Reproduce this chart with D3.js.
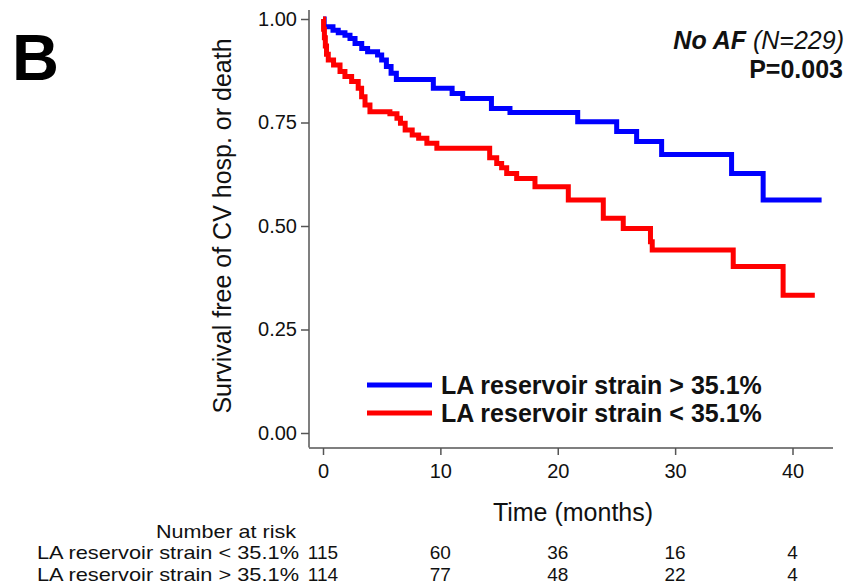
<!DOCTYPE html>
<html>
<head>
<meta charset="utf-8">
<script src="https://cdn.jsdelivr.net/npm/d3@7"></script>
<style>
  body { margin: 0; background: #fff; }
  text { font-family: "Liberation Sans", Arial, Helvetica, sans-serif; }
</style>
</head>
<body>
<div id="chart"></div>
<script>
// Kaplan-Meier steps: [months, survival]
const highStrain = [
  [0, 1.0], [0.1, 0.981], [0.85, 0.973], [1.3, 0.967], [1.87, 0.961], [2.3, 0.953],
  [2.73, 0.941], [3.3, 0.929], [3.8, 0.921], [4.65, 0.913], [5.0, 0.901], [5.4, 0.885],
  [5.8, 0.869], [6.25, 0.854], [9.4, 0.833], [11.0, 0.82], [11.9, 0.808], [14.35, 0.784],
  [15.93, 0.774], [21.7, 0.752], [25.02, 0.728], [26.72, 0.704], [28.85, 0.673],
  [34.81, 0.627], [37.5, 0.563], [42.48, 0.563]
];
const lowStrain = [
  [0, 1.0], [0.05, 0.975], [0.12, 0.955], [0.2, 0.935], [0.3, 0.915], [0.45, 0.901],
  [0.9, 0.889], [1.45, 0.873], [1.87, 0.861], [2.44, 0.849], [3.0, 0.833], [3.29, 0.812],
  [3.58, 0.792], [4.0, 0.776], [5.7, 0.771], [6.3, 0.76], [6.6, 0.748], [7.0, 0.732],
  [7.6, 0.72], [8.15, 0.712], [8.85, 0.7], [9.7, 0.688], [14.2, 0.665], [14.8, 0.651],
  [15.22, 0.641], [15.65, 0.627], [16.5, 0.615], [18.06, 0.595], [20.9, 0.563],
  [23.88, 0.519], [25.58, 0.494], [27.9, 0.462], [28.05, 0.442], [34.95, 0.402],
  [39.2, 0.333], [41.9, 0.333]
];

const xTicks = [0, 10, 20, 30, 40];
const yTicks = [0, 0.25, 0.5, 0.75, 1];
const riskLow = [115, 60, 36, 16, 4];
const riskHigh = [114, 77, 48, 22, 4];
const groupLabels = ["LA reservoir strain > 35.1%", "LA reservoir strain < 35.1%"];
const colors = ["#0000ff", "#ff0000"];

const width = 847, height = 585;
const axisColor = "#555";

const svg = d3.select("#chart").append("svg")
    .attr("width", width)
    .attr("height", height);

const x = d3.scaleLinear().domain([0, 40]).range([323, 792.5]);
const y = d3.scaleLinear().domain([0, 1]).range([433, 19]);

const axisLeftX = 309, axisBottomY = 448;

// y axis
const yAxis = svg.append("g").attr("transform", `translate(${axisLeftX},0)`)
    .call(d3.axisLeft(y).tickValues(yTicks).tickFormat(d3.format(".2f")).tickSize(8).tickPadding(4));
yAxis.select(".domain").remove();
yAxis.append("line").attr("x1", 0).attr("x2", 0).attr("y1", 10).attr("y2", axisBottomY - 0.5);

// x axis
const xAxis = svg.append("g").attr("transform", `translate(0,${axisBottomY})`)
    .call(d3.axisBottom(x).tickValues(xTicks).tickSize(7).tickPadding(9));
xAxis.select(".domain").remove();
xAxis.append("line").attr("x1", axisLeftX).attr("x2", 833).attr("y1", 0).attr("y2", 0);

svg.selectAll(".tick line, g > line").attr("stroke", axisColor).attr("stroke-width", 1.5);
svg.selectAll(".tick text").attr("fill", "#111").style("font-size", "20px")
    .style("font-family", '"Liberation Sans", Arial, sans-serif');

// axis titles
svg.append("text")
    .attr("transform", `translate(231,${(y(0) + y(1)) / 2}) rotate(-90)`)
    .attr("text-anchor", "middle")
    .style("font-size", "25px")
    .attr("fill", "#111")
    .text("Survival free of CV hosp. or death");

svg.append("text")
    .attr("x", 573).attr("y", 521)
    .attr("text-anchor", "middle")
    .style("font-size", "25px")
    .attr("fill", "#111")
    .text("Time (months)");

// curves
const line = d3.line().x(d => x(d[0])).y(d => y(d[1])).curve(d3.curveStepAfter);
[highStrain, lowStrain].forEach((s, i) => {
  svg.append("path")
      .datum(s)
      .attr("d", line)
      .attr("fill", "none")
      .attr("stroke", colors[i])
      .attr("stroke-width", 5);
});

// legend
const legend = svg.append("g");
groupLabels.forEach((lab, i) => {
  const ly = 385 + i * 28;
  legend.append("line")
      .attr("x1", 367).attr("x2", 432).attr("y1", ly).attr("y2", ly)
      .attr("stroke", colors[i]).attr("stroke-width", 5);
  legend.append("text")
      .attr("x", 441).attr("y", ly + 9)
      .style("font-size", "25px").style("font-weight", "bold")
      .attr("fill", "#111")
      .text(lab);
});

// header
const head = svg.append("text")
    .attr("x", 844).attr("y", 49)
    .attr("text-anchor", "end")
    .style("font-size", "25px").style("font-style", "italic")
    .attr("fill", "#111");
head.append("tspan").style("font-weight", "bold").text("No AF");
head.append("tspan").text(" (N=229)");

svg.append("text")
    .attr("x", 843).attr("y", 77.5)
    .attr("text-anchor", "end")
    .style("font-size", "25px").style("font-weight", "bold")
    .attr("fill", "#111")
    .text("P=0.003");

svg.append("text")
    .attr("x", 12).attr("y", 80)
    .style("font-size", "65px").style("font-weight", "bold")
    .attr("fill", "#000")
    .text("B");

// number at risk table
svg.append("text")
    .attr("x", 156).attr("y", 537.5)
    .attr("textLength", 140).attr("lengthAdjust", "spacingAndGlyphs")
    .style("font-size", "19px")
    .attr("fill", "#111")
    .text("Number at risk");

const rows = [
  { label: groupLabels[1], counts: riskLow, yy: 559 },
  { label: groupLabels[0], counts: riskHigh, yy: 580.5 }
];
rows.forEach(r => {
  svg.append("text")
      .attr("x", 37).attr("y", r.yy)
      .attr("textLength", 262).attr("lengthAdjust", "spacingAndGlyphs")
      .style("font-size", "19px")
      .attr("fill", "#111")
      .text(r.label);
  svg.append("g").selectAll("text")
      .data(r.counts)
      .join("text")
      .attr("x", (d, i) => x(xTicks[i]))
      .attr("y", r.yy)
      .attr("text-anchor", "middle")
      .style("font-size", "19px")
      .attr("fill", "#111")
      .text(d => d);
});
</script>
</body>
</html>
